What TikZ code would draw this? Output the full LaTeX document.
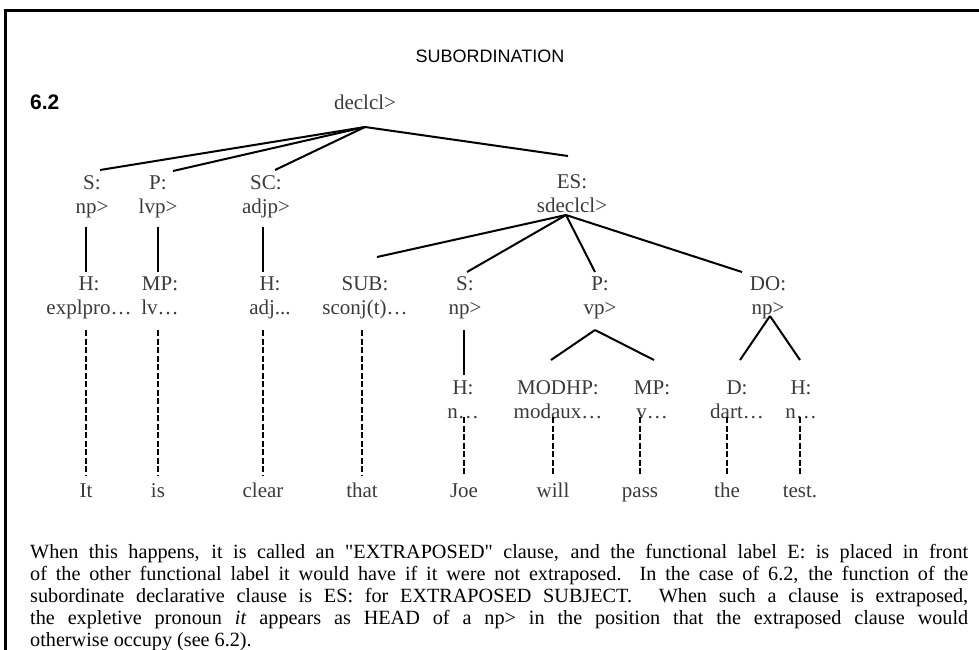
\documentclass[tikz,border=0pt]{standalone}
\usepackage{fontspec}
\setmainfont{Liberation Serif}
\newfontfamily\headfont{Liberation Sans}
\newfontfamily\parafont{Liberation Serif}
\usepackage{tikz}
\usetikzlibrary{calc}
\definecolor{labgray}{HTML}{3A3A3A}
\tikzset{lab/.style={anchor=base,inner sep=0pt,align=center,text=labgray,font=\fontsize{21}{24}\selectfont},
  word/.style={anchor=base,inner sep=0pt,text=labgray,font=\fontsize{21}{24}\selectfont},
  branch/.style={line width=2pt},
  leaf/.style={line width=2pt,dash pattern=on 6pt off 2.5pt}}

\begin{document}
\begin{tikzpicture}[x=1pt,y=-1pt]

\useasboundingbox (0,0) rectangle (979,649);
\clip (0,0) rectangle (979,649);

% Frame
\draw[line width=3pt] (5,700) -- (5,10) -- (1000,10);

% Heading
\node[anchor=base,inner sep=0pt,font=\headfont\fontsize{18}{20}\selectfont] (title) at (490,62) {SUBORDINATION};
\node[anchor=base west,inner sep=0pt,font=\headfont\bfseries\fontsize{21}{22}\selectfont] (num) at (30,109) {6.2};

% Nodes
\node[lab] (root) at (365,109) {declcl>};
\node[lab] (s1) at (92,213) {S:\\np>};
\node[lab] (p1) at (158,213) {P:\\lvp>};
\node[lab] (sc1) at (266,213) {SC:\\adjp>};
\node[lab] (es1) at (572,212) {ES:\\sdeclcl>};

\node[lab] (h2) at (89,314) {H:\\explpro…};
\node[lab] (mp2) at (160,314) {MP:\\lv…};
\node[lab] (ha2) at (270,314) {H:\\adj...};
\node[lab] (sub2) at (365,314) {SUB:\\sconj(t)…};
\node[lab] (s2) at (465,314) {S:\\np>};
\node[lab] (p2) at (600,314) {P:\\vp>};
\node[lab] (do2) at (768,314) {DO:\\np>};

\node[lab] (h3) at (463,418) {H:\\n…};
\node[lab] (modhp3) at (558,418) {MODHP:\\modaux…};
\node[lab] (mp3) at (652,418) {MP:\\v…};
\node[lab] (d3) at (737,418) {D:\\dart…};
\node[lab] (hn3) at (801,418) {H:\\n…};

% The words
\node[word] (w1) at (86,497) {It};
\node[word] (w2) at (158,497) {is};
\node[word] (w3) at (263,497) {clear};
\node[word] (w4) at (362,497) {that};
\node[word] (w5) at (464,497) {Joe};
\node[word] (w6) at (553,497) {will};
\node[word] (w7) at (640,497) {pass};
\node[word] (w8) at (727,497) {the};
\node[word] (w9) at (800,497) {test.};

% The main clause
\draw[branch] ([yshift=-18pt]root.base) -- ([xshift=8pt,yshift=43pt]s1.base);
\draw[branch] ([yshift=-18pt]root.base) -- ([xshift=15pt,yshift=42pt]p1.base);
\draw[branch] ([yshift=-18pt]root.base) -- ([xshift=9pt,yshift=43pt]sc1.base);
\draw[branch] ([yshift=-18pt]root.base) -- ([xshift=-4pt,yshift=56pt]es1.base);

\draw[branch] ([yshift=-14pt]w1 |- s1.base) -- ([yshift=42pt]w1 |- h2.base);
\draw[branch] ([yshift=-14pt]w2 |- p1.base) -- ([yshift=42pt]w2 |- mp2.base);
\draw[branch] ([yshift=-14pt]w3 |- sc1.base) -- ([yshift=42pt]w3 |- ha2.base);

% The subordinate clause
\draw[branch] ([xshift=-6pt,yshift=-3pt]es1.base) -- ([xshift=12pt,yshift=57pt]sub2.base);
\draw[branch] ([xshift=-6pt,yshift=-3pt]es1.base) -- ([xshift=2pt,yshift=42pt]s2.base);
\draw[branch] ([xshift=-6pt,yshift=-3pt]es1.base) -- ([xshift=-5pt,yshift=42pt]p2.base);
\draw[branch] ([xshift=-6pt,yshift=-3pt]es1.base) -- ([xshift=-26pt,yshift=42pt]do2.base);

\draw[branch] ([yshift=-16pt]w5 |- s2.base) -- ([yshift=43pt]w5 |- h3.base);
\draw[branch] ([xshift=-5pt,yshift=-16pt]p2.base) -- ([xshift=-7pt,yshift=58pt]modhp3.base);
\draw[branch] ([xshift=-5pt,yshift=-16pt]p2.base) -- ([xshift=2pt,yshift=58pt]mp3.base);
\draw[branch] ([xshift=2pt,yshift=-2pt]do2.base) -- ([xshift=3pt,yshift=58pt]d3.base);
\draw[branch] ([xshift=2pt,yshift=-2pt]do2.base) -- ([xshift=-1pt,yshift=58pt]hn3.base);

% Leaves
\draw[leaf] ([yshift=-16pt]w1 |- h2.base) -- ([yshift=22pt]w1.base);
\draw[leaf] ([yshift=-16pt]w2 |- mp2.base) -- ([yshift=22pt]w2.base);
\draw[leaf] ([yshift=-16pt]w3 |- ha2.base) -- ([yshift=22pt]w3.base);
\draw[leaf] ([yshift=-16pt]w4 |- sub2.base) -- ([yshift=22pt]w4.base);
\draw[leaf] ([yshift=1pt]w5 |- h3.base) -- ([yshift=22pt]w5.base);
\draw[leaf] ([yshift=1pt]w6 |- modhp3.base) -- ([yshift=22pt]w6.base);
\draw[leaf] ([yshift=1pt]w7 |- mp3.base) -- ([yshift=22pt]w7.base);
\draw[leaf] ([yshift=1pt]w8 |- d3.base) -- ([yshift=22pt]w8.base);
\draw[leaf] ([yshift=1pt]w9 |- hn3.base) -- ([yshift=22pt]w9.base);

% Explanation
\node[anchor=base west,inner sep=0pt,text width=938pt,align=justify,font=\parafont\fontsize{20.2}{22}\selectfont] (para) at (30,558)
{When this happens, it is called an "EXTRAPOSED" clause, and the functional label E: is placed in front\linebreak
of the other functional label it would have if it were not extraposed.  In the case of 6.2, the function of the\linebreak
subordinate declarative clause is ES: for EXTRAPOSED SUBJECT\@.  When such a clause is extraposed,\linebreak
the expletive pronoun \textit{it} appears as HEAD of a np> in the position that the extraposed clause would\linebreak
otherwise occupy (see 6.2).};

\end{tikzpicture}
\end{document}
